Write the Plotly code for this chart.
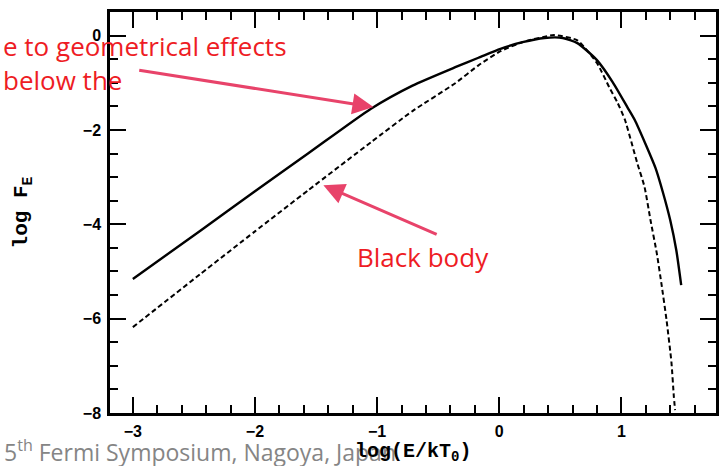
import plotly.graph_objects as go

# Data (log10 units)
bb_x = [-3.0, -2.45, -2.0, -1.56, -1.05, -0.71, -0.36, -0.17, 0.01, 0.19, 0.45, 0.64,
        0.80, 0.90, 0.97, 1.03, 1.13, 1.19, 1.24, 1.29, 1.33, 1.37, 1.41, 1.43, 1.44]
bb_y = [-6.18, -5.06, -4.15, -3.27, -2.26, -1.60, -1.01, -0.63, -0.33, -0.14, 0.01, -0.10,
        -0.58, -1.09, -1.43, -1.79, -2.70, -3.21, -3.93, -4.61, -5.29, -6.03, -6.92, -7.66, -7.94]

geo_x = [-3.0, -2.45, -2.0, -1.56, -1.05, -0.71, -0.36, -0.17, 0.01, 0.19, 0.37, 0.52,
         0.64, 0.80, 0.93, 1.05, 1.11, 1.28, 1.34, 1.40, 1.45, 1.49]
geo_y = [-5.16, -4.14, -3.30, -2.49, -1.55, -1.06, -0.67, -0.47, -0.28, -0.14, -0.05, -0.05,
         -0.16, -0.52, -0.99, -1.52, -1.79, -2.81, -3.32, -3.91, -4.55, -5.29]

x_ticks = [-3, -2, -1, 0, 1]
y_ticks = [-8, -6, -4, -2, 0]

W, H = 719, 466
L, R, T, B = 110, 0, 12, 53
pw, ph = W - L - R, H - T - B

def px(x):
    return (x - L) / pw

def py(y):
    return (H - B - y) / ph

fig = go.Figure()
fig.add_trace(go.Scatter(x=geo_x, y=geo_y, mode="lines",
                         line=dict(color="black", width=2.4, shape="spline", smoothing=0.6),
                         showlegend=False))
fig.add_trace(go.Scatter(x=bb_x, y=bb_y, mode="lines",
                         line=dict(color="black", width=2, dash="5px,3px", shape="spline", smoothing=0.5),
                         showlegend=False))

red = "#ee1c24"
pink = "#e8436a"
annots = [
    dict(text="5<sup>th</sup> Fermi Symposium, Nagoya, Japan", xref="paper", yref="paper", x=px(1), y=py(451),
         xanchor="left", yanchor="middle", showarrow=False,
         font=dict(family="Open Sans", size=23, color="#858585")),
    dict(text="log(E/kT<sub>0</sub>)", xref="paper", yref="paper", x=px(415), y=py(452), xanchor="center",
         yanchor="middle", showarrow=False,
         font=dict(family="Liberation Mono", size=20, color="black", weight="bold")),
    dict(text="log F<sub>E</sub>", xref="paper", yref="paper", x=px(22), y=py(212), xanchor="center",
         yanchor="middle", textangle=-90, showarrow=False,
         font=dict(family="Liberation Mono", size=21, color="black", weight="bold")),
    dict(text="e to geometrical effects", xref="paper", yref="paper", x=px(0), y=py(46), xanchor="left",
         yanchor="middle", showarrow=False, font=dict(family="Open Sans", size=26, color=red)),
    dict(text="below the", xref="paper", yref="paper", x=px(0), y=py(80), xanchor="left",
         yanchor="middle", showarrow=False, font=dict(family="Open Sans", size=26, color=red)),
    dict(text="Black body", xref="paper", yref="paper", x=px(425), y=py(257), xanchor="center",
         yanchor="middle", showarrow=False, font=dict(family="Open Sans", size=26, color=red)),
    dict(text="", x=-1.03, y=-1.515, ax=-2.96, ay=-0.73, axref="x", ayref="y", xref="x", yref="y",
         showarrow=True, arrowhead=2, arrowsize=1.4, arrowwidth=3, arrowcolor=pink),
    dict(text="", x=-1.44, y=-3.17, ax=-0.50, ay=-4.23, axref="x", ayref="y", xref="x", yref="y",
         showarrow=True, arrowhead=2, arrowsize=1.4, arrowwidth=3, arrowcolor=pink),
]

axis_common = dict(showgrid=False, zeroline=False, showline=True, linecolor="black", linewidth=2.5,
                   ticks="inside", ticklen=16, tickwidth=2, tickcolor="black", mirror="allticks",
                   tickfont=dict(family="Liberation Sans", size=16, color="black", weight="bold"))

fig.update_layout(
    width=W, height=H, margin=dict(l=L, r=R, t=T, b=B),
    paper_bgcolor="white", plot_bgcolor="white",
    xaxis=dict(range=[-3.187, 1.775], tickvals=x_ticks, ticklabelstandoff=2,
               minor=dict(dtick=0.2, ticks="inside", ticklen=8, tickwidth=2, tickcolor="black"),
               **axis_common),
    yaxis=dict(range=[-8, 0.5], tickvals=y_ticks, ticklabelstandoff=3,
               minor=dict(dtick=0.5, ticks="inside", ticklen=8, tickwidth=2, tickcolor="black"),
               **axis_common),
    annotations=annots,
)

fig.write_html("out.html")
